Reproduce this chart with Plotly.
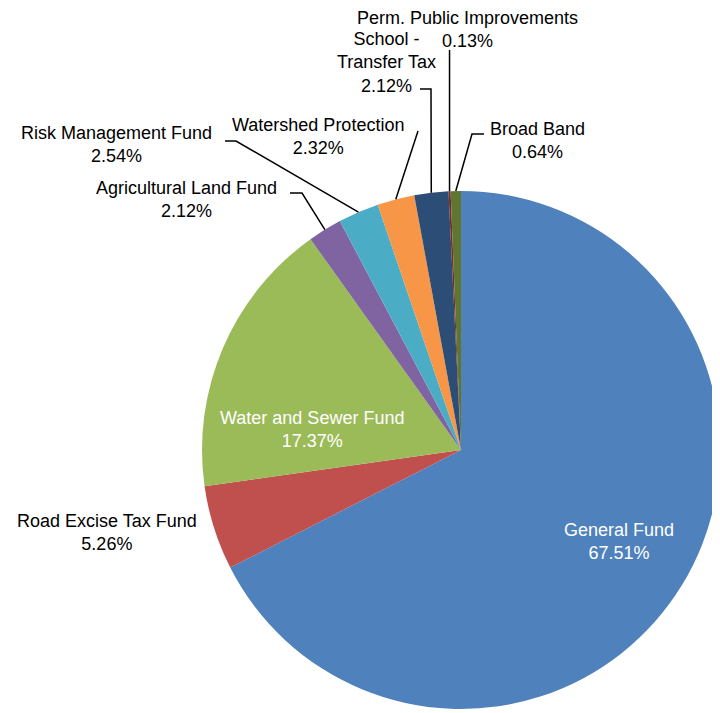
import math
import plotly.graph_objects as go

# ---- data ----
funds = ["General Fund", "Road Excise Tax Fund", "Water and Sewer Fund",
         "Agricultural Land Fund", "Risk Management Fund", "Watershed Protection",
         "School -<br>Transfer Tax", "Perm. Public Improvements", "Broad Band"]
shares = [67.51, 5.26, 17.37, 2.12, 2.54, 2.32, 2.12, 0.13, 0.64]
colors = ["#4F81BD", "#C0504D", "#9BBB59", "#8064A2", "#4BACC6",
          "#F79646", "#2C4D75", "#772C2A", "#5F7530"]

# ---- layout / style ----
OFF = 8                      # page body margin
W, H = 720 - OFF, 713 - OFF  # figure size

def px(x):   # page pixel -> paper x
    return (x - OFF) / W

def py(y):   # page pixel -> paper y
    return 1 - (y - OFF) / H

R_T = 259
CX_T, CY_T = 461, 450
dom_x = [px(CX_T - R_T), min(1.0, px(CX_T + R_T))]
dom_y = [py(CY_T + R_T), py(CY_T - R_T)]

# actual pie centre/radius (page pixels) derived from domain
dw = (dom_x[1] - dom_x[0]) * W
dh = (dom_y[1] - dom_y[0]) * H
R = min(dw, dh) / 2
CX = OFF + (dom_x[0] + dom_x[1]) / 2 * W
CY = OFF + H - (dom_y[0] + dom_y[1]) / 2 * H

# label centres (page pixels), colours, and leader-line start/elbow points
label_pos = [(619, 541), (107, 532), (312, 429), (187, 199), (116, 145),
             (318, 136), (386, 62), (467, 29), (537, 140)]
label_col = ["white", "black", "white", "black", "black",
             "black", "black", "black", "black"]
leaders = {
    3: [(290, 193), (302, 193)],
    4: [(225, 141), (236, 141)],
    5: [(418, 131)],
    6: [(420, 89), (431, 89)],
    7: [None, (None, 50)],
    8: [(484, 134), (472, 134)],
}

fig = go.Figure(go.Pie(
    labels=funds, values=shares, sort=False, direction="clockwise",
    rotation=0, marker=dict(colors=colors, line=dict(width=0)),
    textinfo="none", hoverinfo="label+percent", showlegend=False,
    domain=dict(x=dom_x, y=dom_y),
))

total = sum(shares)
cum = 0
annotations = []
shapes = []
for i, (name, v) in enumerate(zip(funds, shares)):
    mid = (cum + v / 2) / total * 2 * math.pi
    cum += v
    ax = CX + R * math.sin(mid)
    ay = CY - R * math.cos(mid)
    lx, ly = label_pos[i]
    annotations.append(dict(
        x=px(lx), y=py(ly), xref="paper", yref="paper",
        text=f"{name}<br>{v:.2f}%", showarrow=False,
        xanchor="center", yanchor="middle", align="center",
        font=dict(family="Liberation Sans, Arial, sans-serif", size=18,
                  color=label_col[i]),
    ))
    if i in leaders:
        pts = leaders[i]
        if pts[0] is None:
            pts = [(ax, pts[1][1])]
        pts = pts + [(ax, ay)]
        path = "M " + " L ".join(f"{px(x):.5f},{py(y):.5f}" for x, y in pts)
        shapes.append(dict(type="path", xref="paper", yref="paper", path=path,
                           line=dict(color="black", width=1.5)))

fig.update_layout(
    width=W, height=H, margin=dict(l=0, r=0, t=0, b=0),
    paper_bgcolor="white", plot_bgcolor="white",
    annotations=annotations, shapes=shapes,
)
fig.write_html("out.html")
